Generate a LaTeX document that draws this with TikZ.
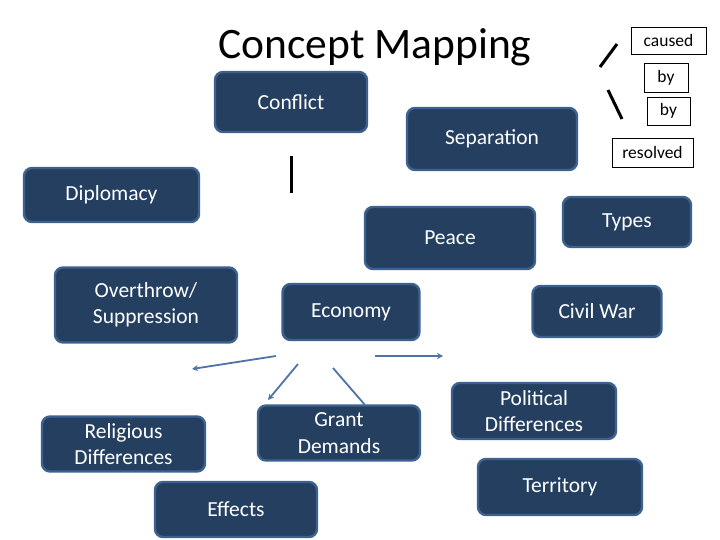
\documentclass[tikz,border=0pt]{standalone}
\usepackage{fontspec}
\setmainfont{Carlito}
\usetikzlibrary{arrows.meta}
\definecolor{boxfill}{HTML}{243F60}
\definecolor{boxedge}{HTML}{3D6290}
\definecolor{arrowblue}{HTML}{4F73A8}
\begin{document}
\begin{tikzpicture}[x=1pt,y=-1pt,
  box/.style={draw=boxedge, fill=boxfill, line width=2.4pt, rounded corners=8pt,
    text=white, font=\fontsize{21.5}{26.5}\selectfont, align=center, inner sep=0pt},
  lbl/.style={draw=black, line width=0.9pt, fill=white,
    font=\fontsize{17.5}{20}\selectfont, inner sep=0pt},
  arr/.style={draw=arrowblue, line width=1.8pt, -{Stealth[length=6pt,width=6pt]}},
  plainline/.style={draw=arrowblue, line width=1.8pt},
  bar/.style={draw=black, line width=3pt}]
\useasboundingbox (0,0) rectangle (720,540);
\fill[white] (0,0) rectangle (720,540);

% title
\node[font=\fontsize{43.5}{50}\selectfont, anchor=base, inner sep=0pt] (title) at (375,59) {Concept Mapping};

% concept boxes
\node[box, minimum width=152pt, minimum height=60pt] (conflict) at (291,102) {Conflict};
\node[box, minimum width=170pt, minimum height=62pt] (separation) at (492,139) {Separation};
\node[box, minimum width=175pt, minimum height=54pt] (diplomacy) at (111.5,195) {Diplomacy};
\node[box, minimum width=170pt, minimum height=62pt] (peace) at (450,238) {Peace};
\node[box, minimum width=128pt, minimum height=50pt] (types) at (627,222) {Types};
\node[box, minimum width=182pt, minimum height=75pt] (overthrow) at (146,305) {Overthrow/\\Suppression};
\node[box, minimum width=137pt, minimum height=56pt] (economy) at (351,312) {Economy};
\node[box, minimum width=129pt, minimum height=51pt] (civilwar) at (597,311.5) {Civil War};
\node[box, minimum width=163pt, minimum height=55pt] (religious) at (123.5,444) {Religious\\Differences};
\node[box, minimum width=162pt, minimum height=55pt] (grant) at (339,433) {Grant\\Demands};
\node[box, minimum width=164pt, minimum height=56pt] (political) at (534,411) {Political\\Differences};
\node[box, minimum width=164pt, minimum height=56pt] (territory) at (560,487) {Territory};
\node[box, minimum width=162pt, minimum height=55pt] (effects) at (236,509.5) {Effects};

% link labels
\node[lbl, minimum width=75pt, minimum height=27pt] (caused) at (668.5,40.5) {caused};
\node[lbl, minimum width=44pt, minimum height=29pt] (byone) at (666,77.5) {by};
\node[lbl, minimum width=43pt, minimum height=28pt] (bytwo) at (668.5,111) {by};
\node[lbl, minimum width=81pt, minimum height=29pt] (resolved) at (652.5,152.5) {resolved};

% black strokes
\coordinate (s1a) at (600,67); \coordinate (s1b) at (617,44);
\coordinate (s2a) at (608,90); \coordinate (s2b) at (622,119);
\coordinate (s3a) at (291,156); \coordinate (s3b) at (291,193);
\draw[bar] (s1a) -- (s1b);
\draw[bar] (s2a) -- (s2b);
\draw[bar] (s3a) -- (s3b);

% blue arrows
\coordinate (b1a) at (276,356); \coordinate (b1b) at (192,369);
\coordinate (b2a) at (298,364); \coordinate (b2b) at (268,400);
\coordinate (b3a) at (333,368); \coordinate (b3b) at (365,405);
\coordinate (b4a) at (375,356); \coordinate (b4b) at (443,356);
\draw[arr] (b1a) -- (b1b);
\draw[arr] (b2a) -- (b2b);
\draw[plainline] (b3a) -- (b3b);
\draw[arr] (b4a) -- (b4b);
\end{tikzpicture}
\end{document}
